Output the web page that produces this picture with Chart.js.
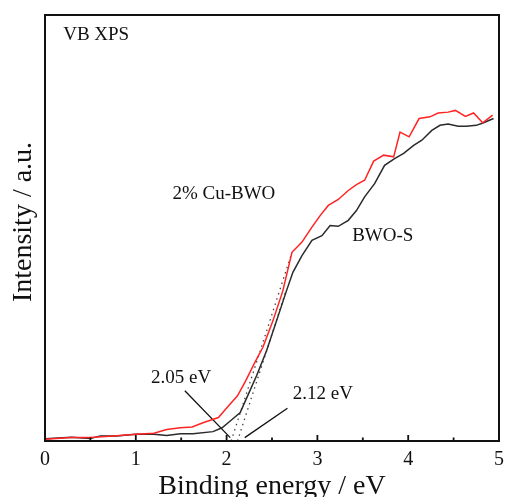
<!DOCTYPE html>
<html>
<head>
<meta charset="utf-8">
<script src="https://cdn.jsdelivr.net/npm/chart.js@4/dist/chart.umd.min.js"></script>
<style>
  html, body { margin: 0; padding: 0; background: #fff; }
  #wrap { width: 506px; height: 497px; }
</style>
</head>
<body>
<div id="wrap"><canvas id="myChart" width="506" height="497"></canvas></div>
<script>
// binding energy (eV) / intensity (a.u., 0-100 of frame height)
const cuX = [0, 0.29, 0.5, 0.75, 1.0, 1.2, 1.34, 1.49, 1.62, 1.74, 1.91, 2.02, 2.12, 2.21, 2.31, 2.40, 2.51, 2.62, 2.72, 2.83, 2.94, 3.03, 3.12, 3.23, 3.34, 3.43, 3.52, 3.62, 3.73, 3.84, 3.91, 4.01, 4.12, 4.24, 4.33, 4.44, 4.52, 4.63, 4.72, 4.82, 4.93]
const cuY = [0.4, 0.8, 0.8, 1.2, 1.6, 1.8, 2.7, 3.1, 3.3, 4.3, 5.5, 8.2, 10.6, 14.1, 18.4, 22.0, 28.2, 35.3, 44.3, 46.7, 50.2, 52.9, 55.3, 56.7, 58.8, 60.2, 61.2, 65.7, 67.1, 66.7, 72.5, 71.4, 75.7, 76.1, 77.0, 77.2, 77.6, 76.2, 77.0, 74.7, 76.5]

const bwoX = [0, 0.29, 0.5, 0.61, 0.79, 1.0, 1.2, 1.34, 1.49, 1.63, 1.85, 1.95, 2.04, 2.15, 2.24, 2.33, 2.44, 2.55, 2.66, 2.73, 2.83, 2.94, 3.05, 3.14, 3.23, 3.34, 3.43, 3.52, 3.63, 3.74, 3.85, 3.95, 4.06, 4.15, 4.26, 4.35, 4.44, 4.55, 4.64, 4.75, 4.83, 4.94]
const bwoY = [0.5, 0.9, 0.6, 1.2, 1.2, 1.6, 1.6, 1.3, 1.7, 1.7, 2.2, 3.1, 4.7, 6.7, 11.0, 15.3, 21.2, 28.2, 35.3, 39.6, 43.5, 47.1, 48.2, 50.6, 50.4, 51.8, 54.1, 57.3, 60.4, 64.7, 66.3, 67.5, 69.4, 70.6, 72.9, 74.1, 74.4, 73.9, 73.9, 74.1, 74.7, 75.7]

// tangent (onset) lines
const cuTangentX = [2.05, 2.72]
const cuTangentY = [0, 44.3]
const bwoTangentX = [2.12, 2.65]
const bwoTangentY = [0, 35]

// pointer lines from the labels to the onsets
const ptr205X = [1.54, 2.04]
const ptr205Y = [11.8, 0.8]
const ptr212X = [2.67, 2.20]
const ptr212Y = [7.7, 0.8]

const xTicks = [0, 1, 2, 3, 4, 5]
const xMinorTicks = [0.5, 1.5, 2.5, 3.5, 4.5]

const labelTexts = ['VB XPS', '2% Cu-BWO', 'BWO-S', '2.05 eV', '2.12 eV']
const labelX = [0.2, 1.97, 3.72, 1.5, 3.06]
const labelY = [95.3, 57.9, 48.2, 14.8, 11.1]

const pts = (xs, ys) => xs.map((x, i) => ({ x: x, y: ys[i] }))

const serif = "'Liberation Serif', 'DejaVu Serif', serif"

// frame, inward ticks, axis titles and text labels
const decor = {
  id: 'decor',
  afterDraw(chart) {
    const { ctx, chartArea: a, scales } = chart
    const xs = scales.x, ys = scales.y
    ctx.save()
    ctx.strokeStyle = '#111'
    ctx.lineWidth = 1.8
    ctx.beginPath()
    xTicks.forEach(t => {
      const px = xs.getPixelForValue(t)
      ctx.moveTo(px, a.bottom); ctx.lineTo(px, a.bottom - 6)
    })
    xMinorTicks.forEach(t => {
      const px = xs.getPixelForValue(t)
      ctx.moveTo(px, a.bottom); ctx.lineTo(px, a.bottom - 3.5)
    })
    ctx.stroke()
    ctx.lineWidth = 2
    ctx.strokeRect(a.left, a.top, a.right - a.left, a.bottom - a.top)

    ctx.fillStyle = '#111'
    ctx.textBaseline = 'middle'
    ctx.font = '19px ' + serif
    labelTexts.forEach((t, i) => {
      ctx.textAlign = i === 0 ? 'left' : 'center'
      ctx.fillText(t, xs.getPixelForValue(labelX[i]), ys.getPixelForValue(labelY[i]))
    })

    ctx.font = '28px ' + serif
    ctx.textAlign = 'center'
    ctx.fillText('Binding energy / eV', (a.left + a.right) / 2, 487)
    ctx.translate(24, (a.top + a.bottom) / 2 - 6)
    ctx.rotate(-Math.PI / 2)
    ctx.fillText('Intensity / a.u.', 0, 0)
    ctx.restore()
  }
}

const lineStyle = { showLine: true, pointRadius: 0, fill: false, tension: 0 }

const ctx = document.getElementById('myChart').getContext('2d')
const myChart = new Chart(ctx, {
  type: 'scatter',
  data: {
    datasets: [
      { ...lineStyle, label: '2% Cu-BWO', data: pts(cuX, cuY), borderColor: '#ff2424', borderWidth: 1.5 },
      { ...lineStyle, label: 'BWO-S', data: pts(bwoX, bwoY), borderColor: '#2a2a2a', borderWidth: 1.5 },
      { ...lineStyle, data: pts(cuTangentX, cuTangentY), borderColor: '#444', borderWidth: 1.3, borderDash: [1.5, 4] },
      { ...lineStyle, data: pts(bwoTangentX, bwoTangentY), borderColor: '#444', borderWidth: 1.3, borderDash: [1.5, 4] },
      { ...lineStyle, data: pts(ptr205X, ptr205Y), borderColor: '#111', borderWidth: 1.3 },
      { ...lineStyle, data: pts(ptr212X, ptr212Y), borderColor: '#111', borderWidth: 1.3 },
    ],
  },
  options: {
    responsive: false,
    animation: false,
    events: [],
    layout: { padding: { left: 45, right: 7, top: 15, bottom: 18 } },
    plugins: { legend: { display: false }, tooltip: { enabled: false } },
    scales: {
      x: {
        type: 'linear',
        min: 0,
        max: 5,
        afterBuildTicks: (axis) => { axis.ticks = xTicks.map(v => ({ value: v })) },
        afterFit: (axis) => { axis.paddingRight = 0 },
        grid: { display: false, drawTicks: false },
        border: { display: false },
        ticks: { color: '#111', padding: 7, font: { family: serif, size: 20 } },
      },
      y: {
        min: 0,
        max: 100,
        display: false,
      },
    },
  },
  plugins: [decor],
})
</script>
</body>
</html>
